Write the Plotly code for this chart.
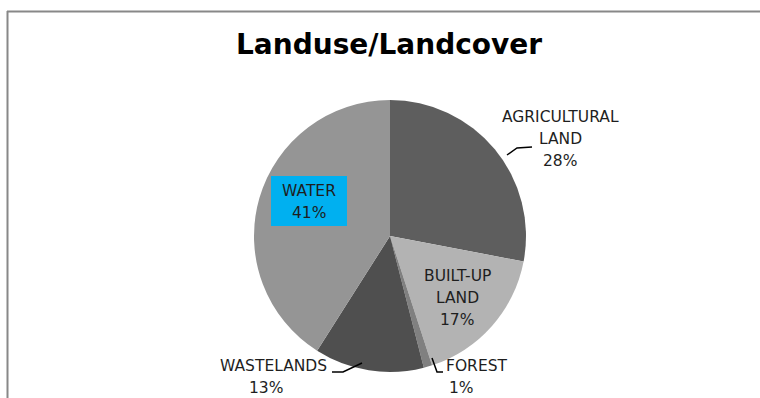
import plotly.graph_objects as go

W, H = 760, 398

# Land use / land cover shares (percent), clockwise from 12 o'clock
categories = ["AGRICULTURAL LAND", "BUILT-UP LAND", "FOREST", "WASTELANDS", "WATER"]
shares = [28, 17, 1, 13, 41]
label_lines = [["AGRICULTURAL", "LAND"], ["BUILT-UP", "LAND"], ["FOREST"], ["WASTELANDS"], ["WATER"]]
slice_colors = ["#5e5e5e", "#b3b3b3", "#808080", "#4f4f4f", "#959595"]

FONT = "DejaVu Sans"
LABEL_SIZE = 15.5
LINE_STEP = 22

# pie geometry in pixels
cx, cy, R = 390, 236, 136


def px(x):
    return x / W


def py(y):
    return 1 - y / H


fig = go.Figure(
    go.Pie(
        labels=categories,
        values=shares,
        sort=False,
        direction="clockwise",
        rotation=0,
        textinfo="none",
        hoverinfo="label+percent",
        marker=dict(colors=slice_colors, line=dict(width=0)),
        domain=dict(x=[px(cx - R), px(cx + R)], y=[py(cy + R), py(cy - R)]),
        showlegend=False,
    )
)

# label placement: anchor x, anchor side, y of first line, x of percent row (pixels)
label_pos = [
    (560, "center", 117, 560),
    (457, "center", 276, 457),
    (444, "left", 366, 461),
    (329, "right", 366, 266),
    (309, "center", 191, 309),
]

annotations = []
for lines, val, (lx, side, ly, pct_x) in zip(label_lines, shares, label_pos):
    rows = lines + [f"{val}%"]
    for i, row in enumerate(rows):
        last = i == len(rows) - 1
        annotations.append(dict(
            x=px(pct_x if last else lx), y=py(ly + i * LINE_STEP),
            xref="paper", yref="paper",
            text=row, showarrow=False,
            font=dict(family=FONT, size=LABEL_SIZE, color="#1e1e1e"),
            xanchor="center" if last else side, yanchor="middle",
        ))

annotations.append(dict(
    x=px(389), y=py(44), xref="paper", yref="paper",
    text="<b>Landuse/Landcover</b>", showarrow=False,
    font=dict(family=FONT, size=28, color="#000000"),
    xanchor="center", yanchor="middle",
))

shapes = []

# highlighted background behind the WATER label
shapes.append(dict(type="rect", xref="paper", yref="paper", layer="above",
                   x0=px(271), x1=px(347), y0=py(226), y1=py(176),
                   fillcolor="#00b0f0", line=dict(width=0)))

# leader lines from outside labels to their slices
leaders = [
    [(507, 155), (517, 148), (532, 147)],
    [(432, 358), (437, 372), (443, 372)],
    [(362, 363), (343, 372), (332, 372)],
]
for pts in leaders:
    path = "M " + " L ".join(f"{px(x)},{py(y)}" for x, y in pts)
    shapes.append(dict(type="path", xref="paper", yref="paper", path=path,
                       line=dict(color="#000000", width=1.5)))

# chart frame
shapes.append(dict(type="line", xref="paper", yref="paper",
                   x0=px(7), x1=1.01, y0=py(11.5), y1=py(11.5),
                   line=dict(color="#888888", width=2)))
shapes.append(dict(type="line", xref="paper", yref="paper",
                   x0=px(7.5), x1=px(7.5), y0=py(11), y1=-0.01,
                   line=dict(color="#888888", width=2)))

fig.update_layout(
    width=W, height=H,
    margin=dict(l=0, r=0, t=0, b=0),
    paper_bgcolor="#ffffff",
    plot_bgcolor="#ffffff",
    annotations=annotations,
    shapes=shapes,
)

fig.write_html("out.html")
